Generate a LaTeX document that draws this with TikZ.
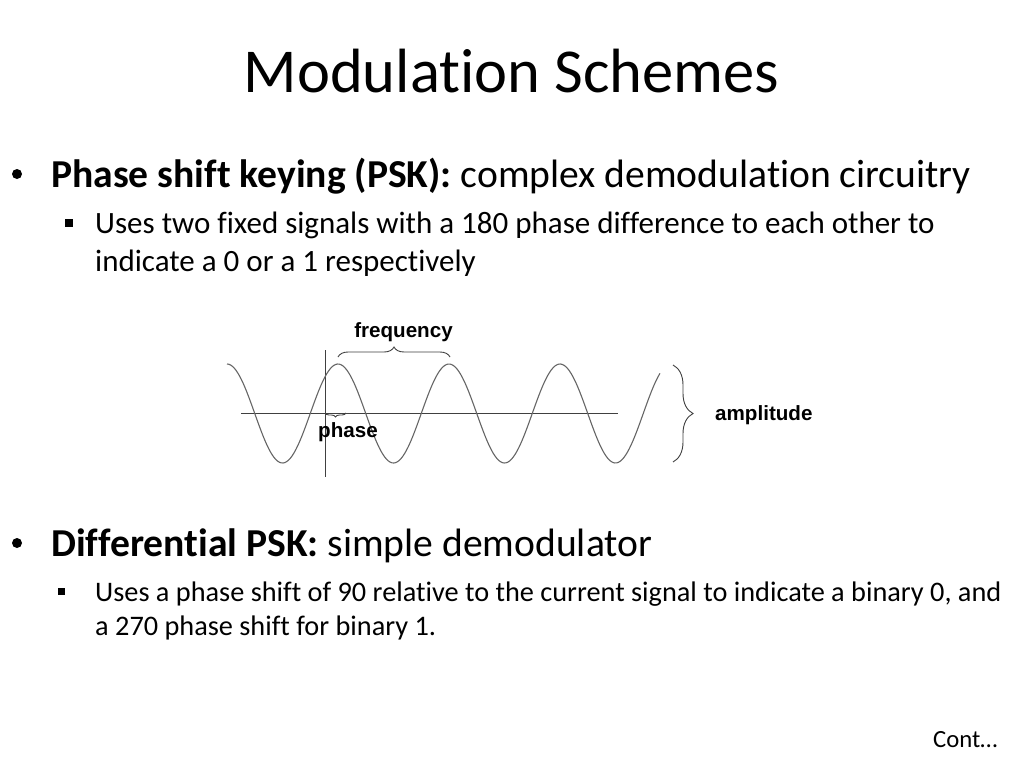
\documentclass[tikz,border=0pt]{standalone}
\usepackage{fontspec}
\setmainfont{Carlito}[Ligatures={NoCommon,NoContextual},RawFeature={-liga;-clig;-calt}]
\newfontfamily\wavefont{Liberation Sans}
\usetikzlibrary{decorations.pathreplacing}
\newcommand{\pxsize}[1]{\fontsize{#1}{#1}\selectfont}

\begin{document}
\begin{tikzpicture}[x=1pt,y=-1pt,
    line/.style={anchor=base west,inner sep=0pt},
    head/.style={line,font=\pxsize{39.6}},
    sub/.style={line,font=\pxsize{#1}},
    wave/.style={draw=black!60,line width=1.1pt},
    axis/.style={draw=black!75,line width=0.9pt},
    curly/.style={draw=black!75,line width=0.9pt,decorate,decoration={brace,amplitude=#1}},
    tag/.style={font=\wavefont\bfseries\pxsize{20.6},inner sep=0pt}]

    \useasboundingbox[fill=white] (0,0) rectangle (1024,768);

    % title
    \node[anchor=base,inner sep=0pt,font=\pxsize{62.5}] (title) at (511.5,92) {Modulation Schemes};

    % first bullet
    \fill (17,174) circle (5);
    \node[head] (psk) at (51,187.3) {\textbf{Phase shift keying (PSK):} complex demodulation circuitry};
    \fill (65,219) rectangle ++(8,8);
    \node[sub=31] (psk1) at (95,233) {Uses two fixed signals with a 180 phase difference to each other to};
    \node[sub=31] (psk2) at (95,271.7) {indicate a 0 or a 1 respectively};

    % wave figure
    \coordinate (ax1) at (241,413);
    \coordinate (ax2) at (618,413);
    \coordinate (vt1) at (325,350);
    \coordinate (vt2) at (325,477);
    \draw[axis] (ax1) -- (ax2);
    \draw[axis] (vt1) -- (vt2);
    \draw[wave] plot[domain=227:660,samples=240,smooth] (\x,{413.5-49.5*cos(3.24324*(\x-338))});

    \coordinate (fq1) at (338,357);
    \coordinate (fq2) at (450,357);
    \coordinate (ph1) at (346,413);
    \coordinate (ph2) at (325,413);
    \coordinate (am1) at (673,365);
    \coordinate (am2) at (673,462);
    \draw[curly=10] (fq1) -- (fq2);
    \draw[curly=4] (ph1) -- (ph2);
    \draw[curly=20] (am1) -- (am2);

    \node[tag,anchor=base] (freq) at (403.5,337) {frequency};
    \node[tag,anchor=base west] (phase) at (318,437.7) {phase};
    \node[tag,anchor=base west] (amp) at (715,420.7) {amplitude};

    % second bullet
    \fill (17,543) circle (5);
    \node[head] (dpsk) at (51,556.7) {\textbf{Differential PSK:} simple demodulator};
    \fill (58,588) rectangle ++(7,7);
    \node[sub=28.3] (dpsk1) at (95,601) {Uses a phase shift of 90 relative to the current signal to indicate a binary 0, and};
    \node[sub=28.3] (dpsk2) at (95,635) {a 270 phase shift for binary 1.};

    \node[line,font=\pxsize{24.7}] (cont) at (933,747.3) {Cont…};
\end{tikzpicture}
\end{document}
